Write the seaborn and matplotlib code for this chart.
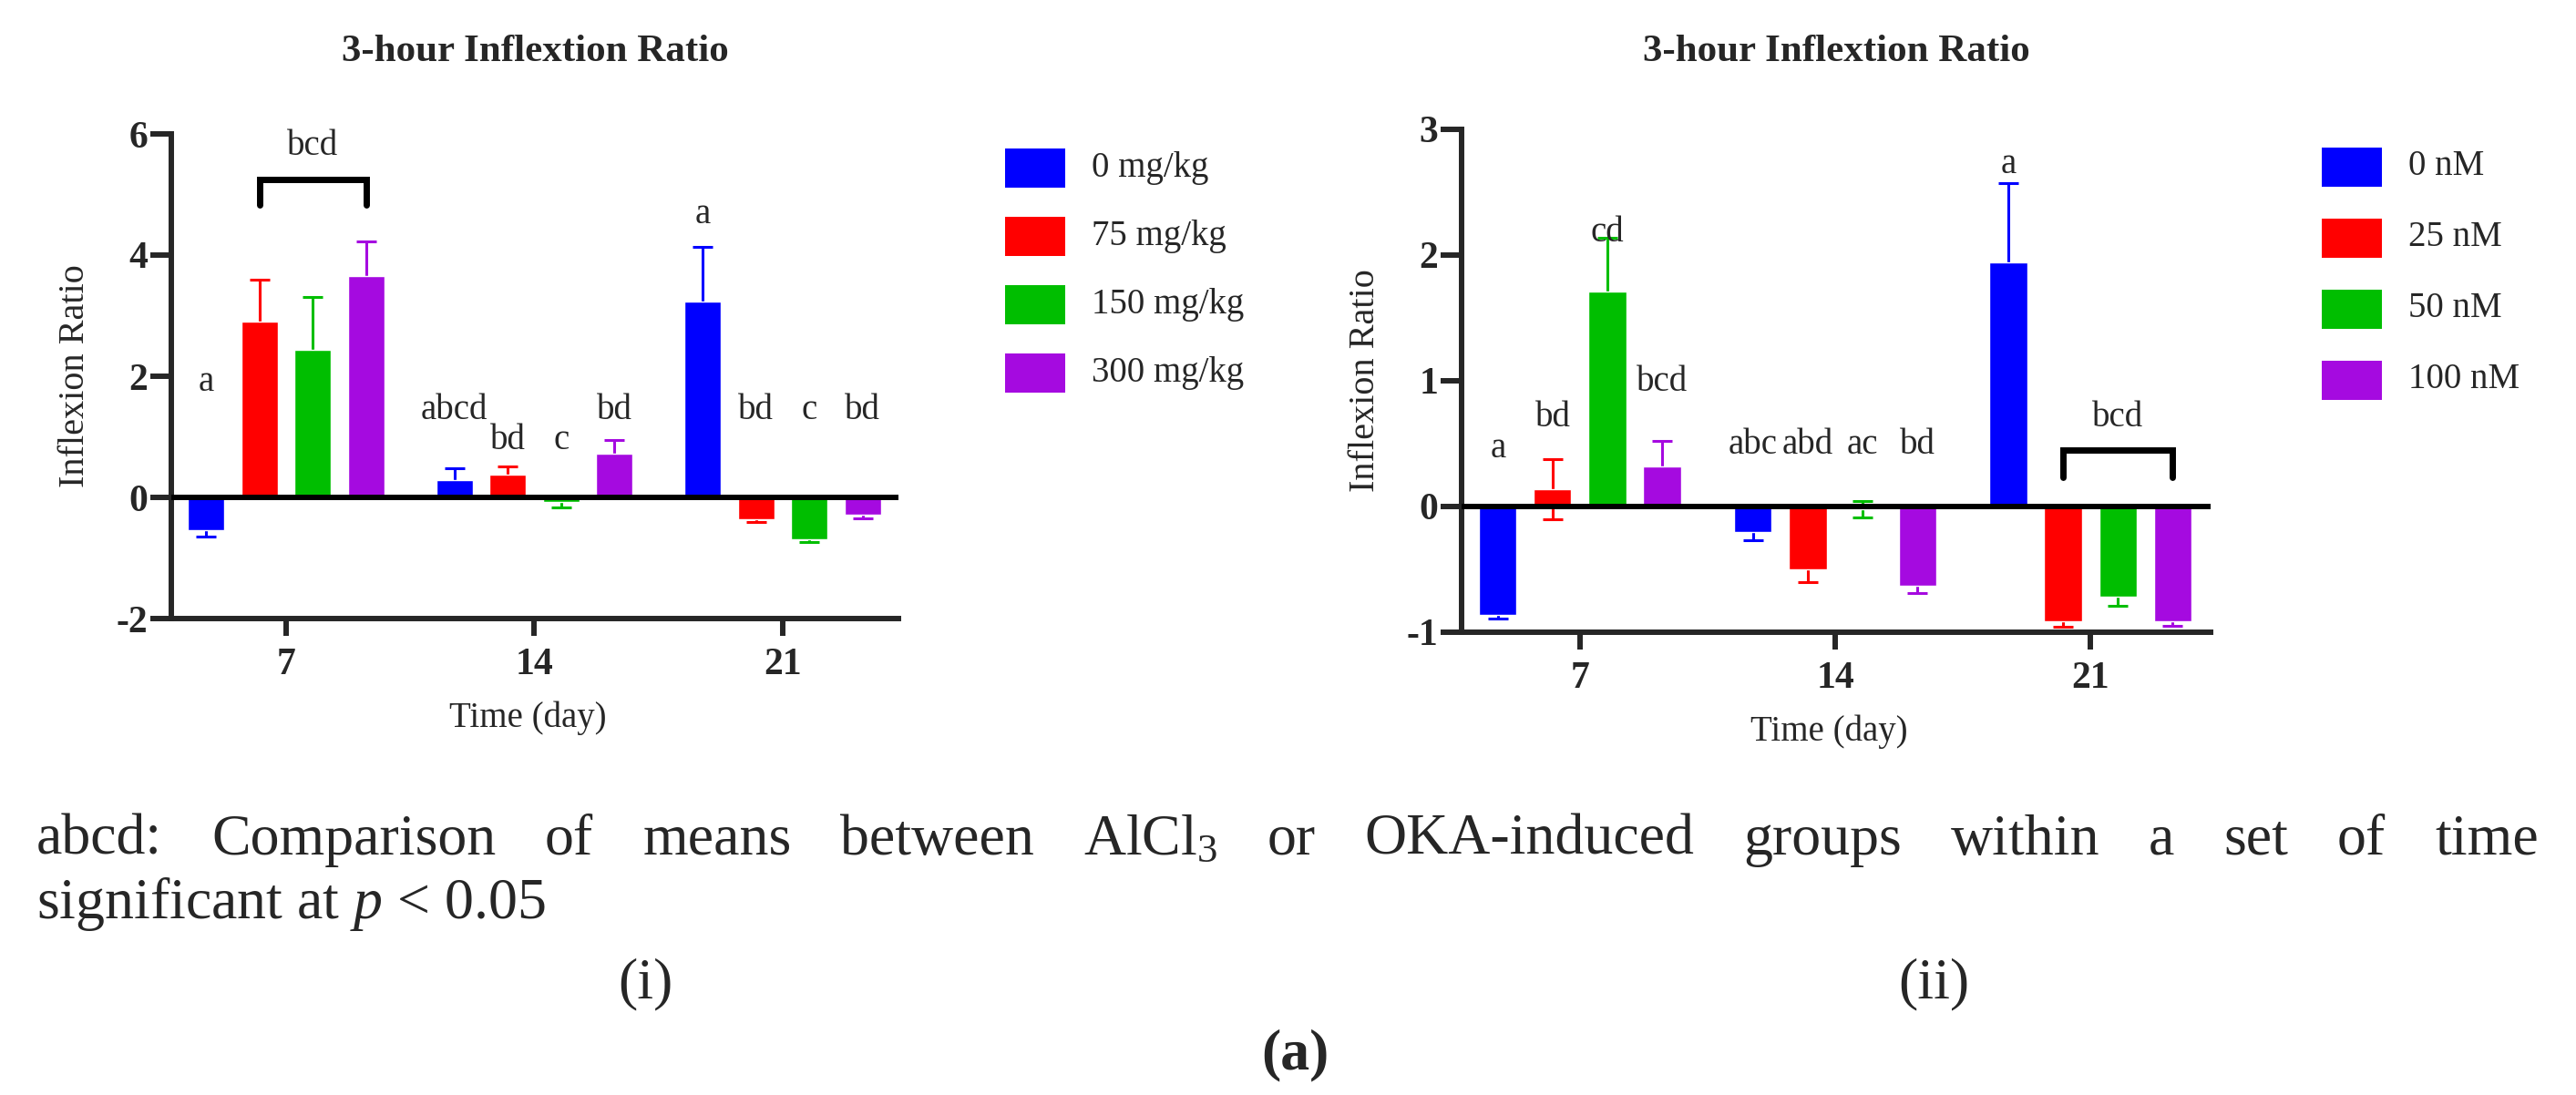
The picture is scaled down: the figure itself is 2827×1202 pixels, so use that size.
import numpy as np
import pandas as pd
import matplotlib
matplotlib.use("Agg")
import matplotlib.pyplot as plt
from matplotlib.patches import Rectangle
import seaborn as sns

# data
days = ["7", "14", "21"]

alcl_groups = ["0 mg/kg", "75 mg/kg", "150 mg/kg", "300 mg/kg"]
alcl_mean = {
    "0 mg/kg":   [-0.54, 0.28, 3.23],
    "75 mg/kg":  [2.90, 0.37, -0.36],
    "150 mg/kg": [2.43, -0.08, -0.69],
    "300 mg/kg": [3.65, 0.72, -0.28],
}
alcl_sem = {
    "0 mg/kg":   [0.10, 0.20, 0.91],
    "75 mg/kg":  [0.69, 0.14, 0.04],
    "150 mg/kg": [0.88, 0.09, 0.04],
    "300 mg/kg": [0.58, 0.23, 0.06],
}
alcl_letters = {
    "0 mg/kg":   ["a", "abcd", "a"],
    "75 mg/kg":  ["", "bd", "bd"],
    "150 mg/kg": ["", "c", "c"],
    "300 mg/kg": ["", "bd", "bd"],
}
alcl_letter_y = {
    "0 mg/kg":   [1.90, 1.44, 4.67],
    "75 mg/kg":  [0, 0.94, 1.44],
    "150 mg/kg": [0, 0.94, 1.44],
    "300 mg/kg": [0, 1.44, 1.44],
}
# bracket: (day index, label, top y, leg y, label y)
alcl_bracket = (0, "bcd", 5.25, 4.83, 5.80)

oka_groups = ["0 nM", "25 nM", "50 nM", "100 nM"]
oka_mean = {
    "0 nM":   [-0.86, -0.20, 1.94],
    "25 nM":  [0.14, -0.50, -0.91],
    "50 nM":  [1.71, -0.025, -0.72],
    "100 nM": [0.32, -0.63, -0.91],
}
oka_sem = {
    "0 nM":   [0.03, 0.07, 0.63],
    "25 nM":  [0.24, 0.10, 0.05],
    "50 nM":  [0.43, 0.065, 0.07],
    "100 nM": [0.20, 0.06, 0.04],
}
oka_letters = {
    "0 nM":   ["a", "abc", "a"],
    "25 nM":  ["bd", "abd", ""],
    "50 nM":  ["cd", "ac", ""],
    "100 nM": ["bcd", "bd", ""],
}
oka_letter_y = {
    "0 nM":   [0.46, 0.49, 2.72],
    "25 nM":  [0.71, 0.49, 0],
    "50 nM":  [2.18, 0.49, 0],
    "100 nM": [0.99, 0.49, 0],
}
oka_bracket = (2, "bcd", 0.45, 0.23, 0.71)

colors = ["#0000FF", "#FF0000", "#00BE00", "#A50AE0"]

W, H = 2827, 1202
sns.set_style("ticks")
plt.rcParams['font.family'] = ['Liberation Serif', 'DejaVu Serif']
plt.rcParams['axes.unicode_minus'] = False
plt.rcParams['mathtext.fontset'] = 'custom'
plt.rcParams['mathtext.rm'] = 'Liberation Serif'
plt.rcParams['mathtext.it'] = 'Liberation Serif:italic'
plt.rcParams['mathtext.bf'] = 'Liberation Serif:bold'

fig = plt.figure(figsize=(W / 100, H / 100), dpi=100)


def fx(px):
    return px / W


def fy(py):
    return 1 - py / H


def draw_panel(rect, groups, means, sems, letters, letter_y, bracket,
               ylim, yticks, xlim, leg_x, leg_y):
    left, top, right, bottom = rect
    ax = fig.add_axes([fx(left), fy(bottom), fx(right) - fx(left), fy(top) - fy(bottom)])
    rows = []
    for g in groups:
        for d, v in zip(days, means[g]):
            rows.append({"day": d, "group": g, "value": v})
    df = pd.DataFrame(rows)
    sns.barplot(data=df, x="day", y="value", hue="group", order=days,
                hue_order=groups, palette=colors, saturation=1,
                width=0.858, gap=0.315, errorbar=None, ax=ax, legend=False)

    centers = {}
    for g, c, cont in zip(groups, colors, ax.containers):
        xs = [p.get_x() + p.get_width() / 2 for p in cont]
        centers[g] = xs
        ax.errorbar(xs, means[g], yerr=sems[g], fmt="none", ecolor=c,
                    elinewidth=2.2, capsize=8, capthick=2.2, zorder=0.5)
        for x, txt, ty in zip(xs, letters[g], letter_y[g]):
            if txt:
                ax.text(x, ty, txt, ha="center", va="center", fontsize=28, zorder=5)

    di, btxt, btop, bleg, by = bracket
    x0 = centers[groups[1]][di]
    x1 = centers[groups[3]][di]
    ax.plot([x0, x0, x1, x1], [bleg, btop, btop, bleg], color="black", lw=5,
            solid_capstyle="round", solid_joinstyle="miter", zorder=5)
    ax.text((x0 + x1) / 2, by, btxt, ha="center", va="center", fontsize=28, zorder=5)

    ax.axhline(0, color="black", lw=4.3, zorder=3)
    ax.set_ylim(*ylim)
    ax.set_xlim(*xlim)
    ax.set_yticks(yticks)
    ax.set_xlabel("")
    ax.set_ylabel("")
    sns.despine(ax=ax)
    for s in ["left", "bottom"]:
        ax.spines[s].set_linewidth(4.3)
    ax.tick_params(axis="y", length=16.5, width=4.3, labelsize=30, pad=2)
    ax.tick_params(axis="x", length=14, width=4.3, labelsize=30, pad=9)
    for lab in ax.get_xticklabels() + ax.get_yticklabels():
        lab.set_fontweight("bold")

    cx = fx((left + right) / 2)
    fig.text(cx, fy(57), "3-hour Inflextion Ratio", ha="center", va="center",
             fontsize=31, fontweight="bold")
    fig.text(cx - fx(8), fy(bottom + 109), "Time (day)", ha="center", va="center", fontsize=28)
    fig.text(fx(left - 106), fy((top + bottom) / 2), "Inflexion Ratio", ha="center",
             va="center", rotation=90, fontsize=29)

    # legend: colour boxes with labels
    for g, c, yc in zip(groups, colors, leg_y):
        fig.patches.append(Rectangle((fx(leg_x), fy(yc + 21.5)), fx(66), 43 / H,
                                     transform=fig.transFigure, facecolor=c,
                                     edgecolor="none", figure=fig))
        fig.text(fx(leg_x + 95), fy(yc), g, ha="left", va="center", fontsize=28)
    return ax


draw_panel((188, 147, 986, 679), alcl_groups, alcl_mean, alcl_sem, alcl_letters,
           alcl_letter_y, alcl_bracket, (-2, 6), [-2, 0, 2, 4, 6], (-0.462, 2.466),
           1103, [184.5, 259.5, 334.5, 409.5])
draw_panel((1604, 142, 2426, 694), oka_groups, oka_mean, oka_sem, oka_letters,
           oka_letter_y, oka_bracket, (-1, 3), [-1, 0, 1, 2, 3], (-0.464, 2.471),
           2548, [183, 261, 339, 417])

# caption, first line justified across the width
words = ["abcd:", "Comparison", "of", "means", "between", "AlCl$_3$", "or",
         "OKA-induced", "groups", "within", "a", "set", "of", "time"]
cap_size = 46
renderer = fig.canvas.get_renderer()
objs = [fig.text(0, fy(923), w, fontsize=cap_size, va="center", ha="left") for w in words]
widths = [o.get_window_extent(renderer).width for o in objs]
x_start, x_end = 40, 2786
gap = (x_end - x_start - sum(widths)) / (len(words) - 1)
xpos = x_start
for o, w in zip(objs, widths):
    o.set_x(fx(xpos))
    xpos += w + gap

fig.text(fx(40), fy(992), "significant at $p$ < 0.05", fontsize=cap_size, va="center", ha="left")
fig.text(fx(708), fy(1080), "(i)", fontsize=cap_size, va="center", ha="center")
fig.text(fx(2122), fy(1080), "(ii)", fontsize=cap_size, va="center", ha="center")
fig.text(fx(1421), fy(1158), "(a)", fontsize=cap_size, va="center", ha="center", fontweight="bold")

fig.savefig("out.png", dpi=100)
